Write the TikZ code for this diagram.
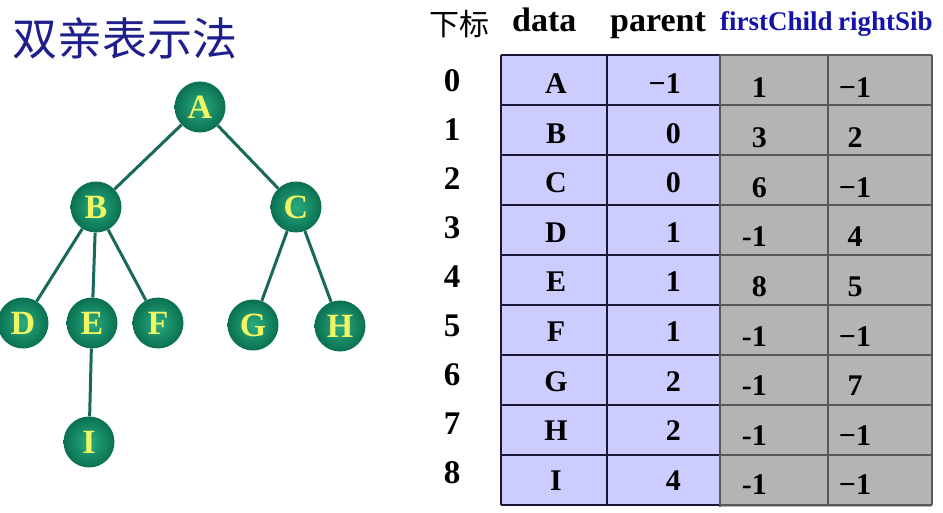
\documentclass[tikz,border=0pt]{standalone}
\usepackage{fontspec}
\setmainfont{Liberation Serif}
\newfontfamily\cjk{Noto Sans CJK SC}
\usepackage{tikz}
\usetikzlibrary{positioning}
\definecolor{titleblue}{RGB}{30,30,140}
\definecolor{headblue}{RGB}{20,20,170}
\definecolor{ballinner}{RGB}{42,172,126}
\definecolor{ballouter}{RGB}{10,112,82}
\definecolor{edgegreen}{RGB}{25,105,90}
\definecolor{lettery}{RGB}{240,245,100}
\definecolor{lavcell}{RGB}{204,204,255}
\definecolor{graycell}{RGB}{180,180,180}
\definecolor{linenavy}{RGB}{25,25,55}

\begin{document}
\begin{tikzpicture}[x=1pt, y=-1pt,
    treenode/.style={circle, minimum size=51pt, inner sep=0pt, shading=radial, inner color=ballinner,
        outer color=ballouter, text=lettery, font=\fontsize{34}{34}\selectfont\bfseries},
    treeedge/.style={draw=edgegreen, line width=3pt},
    cellval/.style={anchor=base, inner sep=0pt, font=\fontsize{30}{30}\selectfont\bfseries},
    idxval/.style={anchor=base, inner sep=0pt, font=\fontsize{33}{33}\selectfont\bfseries},
    headtxt/.style={anchor=base west, inner sep=0pt, font=\fontsize{34}{34}\selectfont\bfseries},
    bluehead/.style={anchor=base west, inner sep=0pt, text=headblue, font=\fontsize{27}{27}\selectfont\bfseries},
    gridline/.style={draw=linenavy, line width=1.3pt},
    grayline/.style={draw=black!65, line width=1.3pt}]
    \useasboundingbox (0,0) rectangle (943,513);

    % title
    \node[text=titleblue, font=\cjk\fontsize{45}{45}\selectfont] (title) at (125,38) {双亲表示法};

    % tree
    \node[treenode] (A) at (200,107) {A};
    \node[treenode] (B) at (96,207) {B};
    \node[treenode] (C) at (296,207) {C};
    \node[treenode] (D) at (23,323) {D};
    \node[treenode] (E) at (92,323) {E};
    \node[treenode] (F) at (158,323) {F};
    \node[treenode] (G) at (253,325) {G};
    \node[treenode] (H) at (340,326) {H};
    \node[treenode] (I) at (89,442) {I};
    \draw[treeedge] (A) -- (B);
    \draw[treeedge] (A) -- (C);
    \draw[treeedge] (B) -- (D);
    \draw[treeedge] (B) -- (E);
    \draw[treeedge] (B) -- (F);
    \draw[treeedge] (C) -- (G);
    \draw[treeedge] (C) -- (H);
    \draw[treeedge] (E) -- (I);

    % table header
    \node[font=\cjk\fontsize{30}{30}\selectfont] (hidx) at (459,24) {下标};
    \node[headtxt] (hdata) at (512,32) {data};
    \node[headtxt] (hpar) at (610,32) {parent};
    \node[bluehead] (hfc) at (720,31) {firstChild};
    \node[bluehead] (hrs) at (838,31) {rightSib};

    % table cells
    \fill[lavcell] (501,55) rectangle (720,505);
    \fill[graycell] (720,55) rectangle (932,507);
    \foreach \k in {0,...,9}
        \draw[gridline] (501,{55+50*\k}) -- (720,{55+50*\k});
    \foreach \k in {0,...,9}
        \draw[grayline] (720,{55+50*\k}) -- (932,{55+50*\k});
    \draw[gridline] (501,55) -- (501,505);
    \draw[gridline] (607,55) -- (607,505);
    \draw[grayline] (720,55) -- (720,507);
    \draw[grayline] (828,55) -- (828,505);
    \draw[grayline] (932,55) -- (932,505);

    \foreach \i/\d/\p/\f/\r in {0/A/−1/1/−1, 1/B/0/3/2, 2/C/0/6/−1, 3/D/1/-1/4, 4/E/1/8/5,
            5/F/1/-1/−1, 6/G/2/-1/7, 7/H/2/-1/−1, 8/I/4/-1/−1} {
        \node[idxval] (idx\i) at (452,{92+48.9*\i}) {\i};
        \node[cellval] (data\i) at (556,{94+49.5*\i}) {\d};
        \node[cellval, anchor=base east] (par\i) at (681,{94+49.5*\i}) {\p};
        \node[cellval, anchor=base east] (fc\i) at (767,{98+49.6*\i}) {\f};
        \node[cellval] (rs\i) at (855,{98+49.6*\i}) {\r};
    }
\end{tikzpicture}
\end{document}
